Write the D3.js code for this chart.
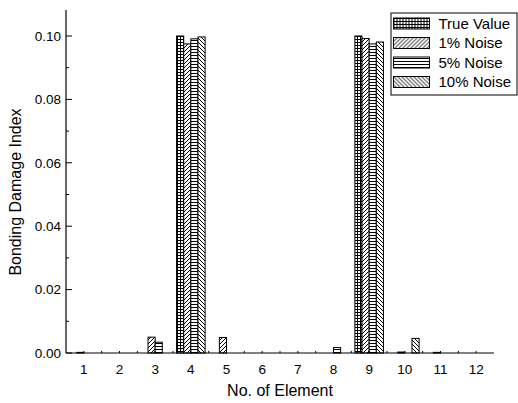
<!DOCTYPE html>
<html>
<head>
<meta charset="utf-8">
<script src="https://cdn.jsdelivr.net/npm/d3@7"></script>
<style>
  html, body { margin: 0; padding: 0; background: #fff; }
  svg { display: block; font-family: "Liberation Sans", Arial, sans-serif; }
</style>
</head>
<body>
<svg id="chart" width="518" height="403"></svg>
<script>
// Bonding damage index per element, for exact values and three noise levels
const elements = [1, 2, 3, 4, 5, 6, 7, 8, 9, 10, 11, 12];
const seriesNames = ["True Value", "1% Noise", "5% Noise", "10% Noise"];
const trueValue  = [0, 0, 0, 0.100, 0, 0, 0, 0, 0.100, 0, 0, 0];
const noise1     = [0.0002, 0, 0.0050, 0.0975, 0.0049, 0, 0, 0, 0.0992, 0.0003, 0.0002, 0];
const noise5     = [0, 0, 0.0034, 0.0991, 0, 0, 0, 0.0017, 0.0975, 0, 0, 0];
const noise10    = [0, 0, 0, 0.0997, 0, 0, 0, 0, 0.0981, 0.0046, 0, 0];
const yTicks = [0, 0.02, 0.04, 0.06, 0.08, 0.10];
const yMinorTicks = [0.01, 0.03, 0.05, 0.07, 0.09];

const series = [trueValue, noise1, noise5, noise10];
const patternIds = ["pGrid", "pFwd", "pHoriz", "pBack"];

const svg = d3.select("#chart");
const margin = { left: 66, right: 24, top: 10, bottom: 50 };
const W = 518, H = 403;

const x = d3.scaleLinear().domain([0.5, 12.5]).range([margin.left, W - margin.right]);
const y = d3.scaleLinear().domain([0, 0.1082]).range([H - margin.bottom, margin.top]);

// Fill patterns for each series
const defs = svg.append("defs");
function pattern(id, size, draw) {
  const p = defs.append("pattern")
    .attr("id", id).attr("patternUnits", "userSpaceOnUse")
    .attr("width", size).attr("height", size);
  p.append("rect").attr("width", size).attr("height", size).attr("fill", "#fff");
  draw(p);
}
pattern("pGrid", 3, p => {
  p.append("path").attr("d", "M0,0.5H3M0.5,0V3").attr("stroke", "#000").attr("stroke-width", 1);
});
pattern("pFwd", 4, p => {
  p.append("path").attr("d", "M-1,1L1,-1M0,4L4,0M3,5L5,3").attr("stroke", "#000").attr("stroke-width", 1);
});
pattern("pHoriz", 3, p => {
  p.append("path").attr("d", "M0,1.5H3").attr("stroke", "#000").attr("stroke-width", 1);
});
pattern("pBack", 4, p => {
  p.append("path").attr("d", "M-1,3L1,5M0,0L4,4M3,-1L5,1").attr("stroke", "#000").attr("stroke-width", 1);
});

// Bars
const groupWidth = 0.8;
const barW = groupWidth / series.length;
series.forEach((vals, si) => {
  svg.append("g").selectAll("rect")
    .data(elements.map((e, i) => ({ e, v: vals[i] })).filter(d => d.v > 0))
    .join("rect")
    .attr("x", d => x(d.e - groupWidth / 2 + si * barW))
    .attr("width", d => x(d.e - groupWidth / 2 + (si + 1) * barW) - x(d.e - groupWidth / 2 + si * barW))
    .attr("y", d => y(d.v))
    .attr("height", d => y(0) - y(d.v))
    .attr("fill", `url(#${patternIds[si]})`)
    .attr("stroke", "#000")
    .attr("stroke-width", 1);
});

// Y axis (ticks point into the plot)
const yAxis = svg.append("g").attr("transform", `translate(${margin.left},0)`);
yAxis.append("line")
  .attr("x1", 0).attr("x2", 0).attr("y1", margin.top).attr("y2", y(0))
  .attr("stroke", "#000").attr("stroke-width", 1.2);
yAxis.selectAll("line.major").data(yTicks).join("line").attr("class", "major")
  .attr("x1", 0).attr("x2", 6).attr("y1", d => y(d)).attr("y2", d => y(d))
  .attr("stroke", "#000");
yAxis.selectAll("line.minor").data(yMinorTicks).join("line").attr("class", "minor")
  .attr("x1", 0).attr("x2", 3).attr("y1", d => y(d)).attr("y2", d => y(d))
  .attr("stroke", "#000");
yAxis.selectAll("text").data(yTicks).join("text")
  .attr("x", -5).attr("y", d => y(d)).attr("dy", "0.35em")
  .attr("text-anchor", "end").attr("font-size", 13.5)
  .text(d3.format(".2f"));

// X axis
const xAxis = svg.append("g");
xAxis.append("line")
  .attr("x1", margin.left).attr("x2", W - margin.right).attr("y1", y(0)).attr("y2", y(0))
  .attr("stroke", "#000").attr("stroke-width", 1.2);
xAxis.selectAll("line.tick").data(elements).join("line").attr("class", "tick")
  .attr("x1", d => x(d)).attr("x2", d => x(d)).attr("y1", y(0)).attr("y2", y(0) - 2)
  .attr("stroke", "#000");
xAxis.selectAll("line.mtick").data(elements.slice(1).map(e => e - 0.5)).join("line").attr("class", "mtick")
  .attr("x1", d => x(d)).attr("x2", d => x(d)).attr("y1", y(0)).attr("y2", y(0) - 2)
  .attr("stroke", "#000");
xAxis.selectAll("text").data(elements).join("text")
  .attr("x", d => x(d)).attr("y", y(0) + 21)
  .attr("text-anchor", "middle").attr("font-size", 13.5)
  .text(d => d);

// Axis titles
svg.append("text")
  .attr("x", 280).attr("y", 396)
  .attr("text-anchor", "middle").attr("font-size", 16)
  .text("No. of Element");
svg.append("text")
  .attr("transform", `translate(21,192) rotate(-90)`)
  .attr("text-anchor", "middle").attr("font-size", 16)
  .text("Bonding Damage Index");

// Legend
const lg = svg.append("g").attr("transform", "translate(391,13)");
lg.append("rect").attr("x", 0).attr("y", 0).attr("width", 126).attr("height", 82)
  .attr("fill", "#fff").attr("stroke", "#000").attr("stroke-width", 1);
seriesNames.forEach((name, i) => {
  const row = lg.append("g").attr("transform", `translate(2.5,${5 + i * 19.5})`);
  row.append("rect").attr("width", 36).attr("height", 11)
    .attr("fill", `url(#${patternIds[i]})`).attr("stroke", "#000").attr("stroke-width", 1);
  row.append("text").attr("x", 45).attr("y", 5.5).attr("dy", "0.35em")
    .attr("font-size", 15).text(name);
});
</script>
</body>
</html>
